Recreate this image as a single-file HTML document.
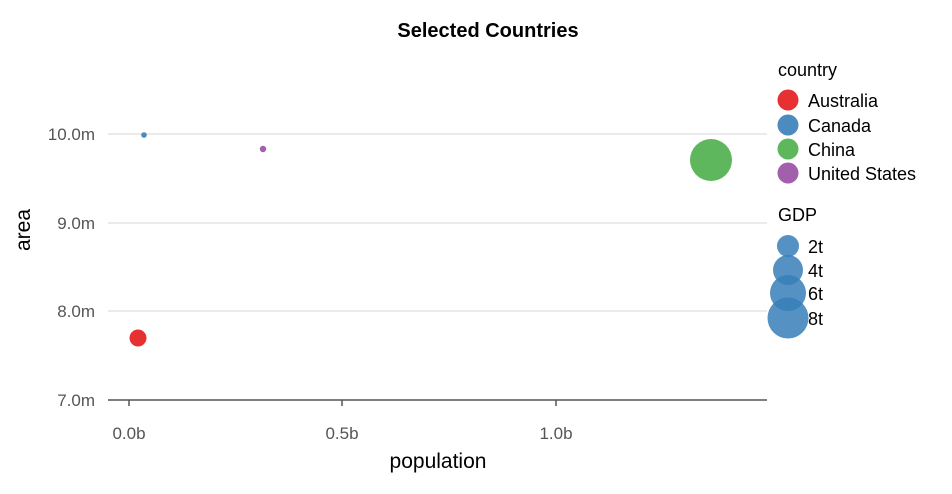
<!DOCTYPE html>
<html><head><meta charset="utf-8"><style>
body{margin:0;background:#fff;}
svg{display:block;font-family:"Liberation Sans",Arial,sans-serif;}
</style></head><body>
<svg width="952" height="494" viewBox="0 0 952 494">
<text x="488" y="37" text-anchor="middle" font-size="20" font-weight="bold" fill="#000">Selected Countries</text>
<g stroke="#ebebeb" stroke-width="2">
<line x1="108" y1="134" x2="767" y2="134"/>
<line x1="108" y1="223" x2="767" y2="223"/>
<line x1="108" y1="311" x2="767" y2="311"/>
</g>
<line x1="108" y1="400" x2="767" y2="400" stroke="#555" stroke-width="1.5"/>
<g stroke="#555" stroke-width="1.5">
<line x1="129" y1="400" x2="129" y2="406"/>
<line x1="342" y1="400" x2="342" y2="406"/>
<line x1="556" y1="400" x2="556" y2="406"/>
</g>
<g font-size="17" fill="#555" text-anchor="end">
<text x="95" y="140">10.0m</text>
<text x="95" y="229">9.0m</text>
<text x="95" y="317">8.0m</text>
<text x="95" y="406">7.0m</text>
</g>
<g font-size="17" fill="#555" text-anchor="middle">
<text x="129" y="439">0.0b</text>
<text x="342" y="439">0.5b</text>
<text x="556" y="439">1.0b</text>
</g>
<text x="438" y="468" text-anchor="middle" font-size="21" fill="#000">population</text>
<text transform="translate(30,230) rotate(-90)" text-anchor="middle" font-size="21" fill="#000">area</text>
<circle cx="144" cy="135" r="2.8" fill="#377eb8" opacity="0.9"/>
<circle cx="263" cy="149" r="3.2" fill="#984ea3" opacity="0.9"/>
<circle cx="138" cy="338" r="8.5" fill="#e41a1c" opacity="0.9"/>
<circle cx="711" cy="160" r="21" fill="#4daf4a" opacity="0.9"/>
<text x="778" y="76" font-size="18" fill="#000">country</text>
<circle cx="788" cy="100" r="10.5" fill="#e41a1c" opacity="0.9"/>
<circle cx="788" cy="125" r="10.5" fill="#377eb8" opacity="0.9"/>
<circle cx="788" cy="149" r="10.5" fill="#4daf4a" opacity="0.9"/>
<circle cx="788" cy="173" r="10.5" fill="#984ea3" opacity="0.9"/>
<g font-size="18" fill="#000">
<text x="808" y="107">Australia</text>
<text x="808" y="132">Canada</text>
<text x="808" y="156">China</text>
<text x="808" y="180">United States</text>
<text x="778" y="221">GDP</text>
</g>
<g fill="#377eb8" fill-opacity="0.85">
<circle cx="788" cy="246" r="11"/>
<circle cx="788" cy="270" r="15"/>
<circle cx="788" cy="293" r="18"/>
<circle cx="788" cy="318" r="20.5"/>
</g>
<g font-size="18" fill="#000">
<text x="808" y="253">2t</text>
<text x="808" y="277">4t</text>
<text x="808" y="300">6t</text>
<text x="808" y="325">8t</text>
</g>
</svg>
</body></html>
